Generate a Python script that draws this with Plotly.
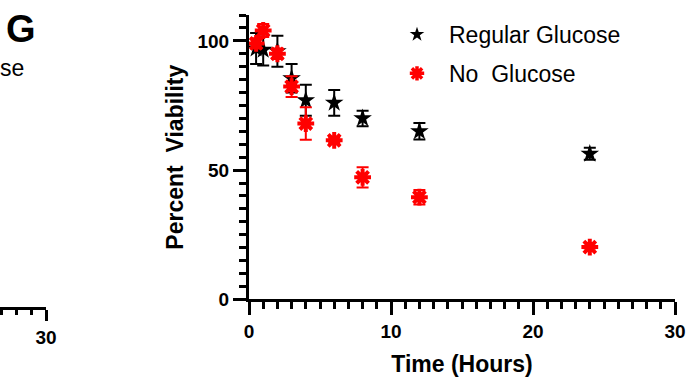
import plotly.graph_objects as go

# ---- data ----
time_reg = [0.5, 1, 2, 3, 4, 6, 8, 12, 24]
via_reg = [97, 96.5, 96, 85.5, 77, 76, 70, 65, 56.3]
err_reg = [6, 6, 6, 5.5, 6, 5, 3, 3.2, 2.3]

time_no = [0.5, 1, 2, 3, 4, 6, 8, 12, 24]
via_no = [99, 104, 95, 82.3, 68, 61.5, 47.2, 39.5, 20.2]
err_no = [2, 2.5, 2, 4, 6.3, 1, 3.9, 2.8, 0.5]

x_ticks = [0, 10, 20, 30]
y_ticks = [0, 50, 100]

FONT = "Liberation Sans, Arial, sans-serif"
W, H = 692, 381

fig = go.Figure()

fig.add_trace(go.Scatter(
    x=time_reg, y=via_reg, mode="markers", name="Regular Glucose",
    showlegend=False,
    marker=dict(symbol="star", size=14, color="black", line=dict(width=0)),
    error_y=dict(type="data", array=err_reg, visible=True, color="black",
                 thickness=2, width=6),
))
fig.add_trace(go.Scatter(
    x=time_no, y=via_no, mode="markers", name="No  Glucose",
    showlegend=False,
    marker=dict(symbol="asterisk-open", size=14, color="red",
                line=dict(width=4, color="red")),
    error_y=dict(type="data", array=err_no, visible=True, color="red",
                 thickness=2, width=6),
))

# legend entries (smaller symbols as in the reference)
fig.add_trace(go.Scatter(x=[None], y=[None], mode="markers",
                         name="Regular Glucose", legendgroup="a",
                         marker=dict(symbol="star", size=11, color="black",
                                     line=dict(width=0))))
fig.add_trace(go.Scatter(x=[None], y=[None], mode="markers",
                         name="No  Glucose", legendgroup="b",
                         marker=dict(symbol="asterisk-open", size=12, color="red",
                                     line=dict(width=3.5, color="red"))))

# invisible trace for the left fragment axis
fig.add_trace(go.Scatter(x=[28], y=[0], xaxis="x2", yaxis="y2",
                         mode="markers", marker=dict(opacity=0),
                         showlegend=False, hoverinfo="skip"))

x0, x1 = 249 / W, 675 / W
y0, y1 = 1 - 299.3 / H, 1 - 15 / H

fig.update_layout(
    width=W, height=H,
    margin=dict(l=0, r=0, t=0, b=0, autoexpand=False),
    paper_bgcolor="white", plot_bgcolor="white",
    font=dict(family=FONT, color="black"),
    showlegend=True,
    legend=dict(x=385 / W, y=1 - 13 / H, xanchor="left", yanchor="top",
                font=dict(size=23, family=FONT, color="black"),
                traceorder="grouped", tracegroupgap=6,
                itemwidth=54, bgcolor="rgba(0,0,0,0)"),
    xaxis=dict(domain=[x0, x1], range=[0, 30], tickvals=x_ticks,
               ticktext=[str(v) for v in x_ticks], automargin=False,
               showgrid=False, zeroline=False,
               showline=True, linecolor="black", linewidth=3,
               ticks="outside", ticklen=13, tickwidth=3, tickcolor="black",
               tickfont=dict(size=19, family=FONT, weight="bold"),
               minor=dict(dtick=1, ticks="outside", ticklen=7, tickwidth=3,
                          tickcolor="black", showgrid=False),
               title=dict(text="Time (Hours)", standoff=15,
                          font=dict(size=23, family=FONT, weight="bold")),
               anchor="y"),
    yaxis=dict(domain=[y0, y1], range=[0, 110], tickvals=y_ticks,
               ticktext=[str(v) for v in y_ticks], automargin=False,
               showgrid=False, zeroline=False,
               showline=True, linecolor="black", linewidth=3,
               ticks="outside", ticklen=13, tickwidth=3, tickcolor="black",
               tickfont=dict(size=19, family=FONT, weight="bold"),
               minor=dict(dtick=5, ticks="outside", ticklen=7, tickwidth=3,
                          tickcolor="black", showgrid=False),
               title=dict(text="Percent  Viability", standoff=8,
                          font=dict(size=23, family=FONT, weight="bold")),
               anchor="x"),
    xaxis2=dict(domain=[0, 46 / W], range=[30 - 46 / 15.0, 30],
                tickvals=[30], ticktext=["30"], automargin=False,
                showgrid=False, zeroline=False,
                showline=True, linecolor="black", linewidth=3,
                ticks="outside", ticklen=11, tickwidth=3, tickcolor="black",
                tickfont=dict(size=19, family=FONT, weight="bold"),
                minor=dict(dtick=1, ticks="outside", ticklen=5, tickwidth=3,
                           tickcolor="black", showgrid=False),
                anchor="y2"),
    yaxis2=dict(domain=[1 - 307 / H, 0.4], range=[0, 1], visible=False,
                automargin=False, anchor="x2"),
    annotations=[
        dict(text="<b>G</b>", x=4 / W, y=1 - 6 / H, xref="paper", yref="paper",
             xanchor="left", yanchor="top", showarrow=False,
             font=dict(size=38, family=FONT, color="black")),
        dict(text="se", x=-2 / W, y=1 - 53 / H, xref="paper", yref="paper",
             xanchor="left", yanchor="top", showarrow=False,
             font=dict(size=23, family=FONT, color="black")),
    ],
)

fig.write_html("out.html")
